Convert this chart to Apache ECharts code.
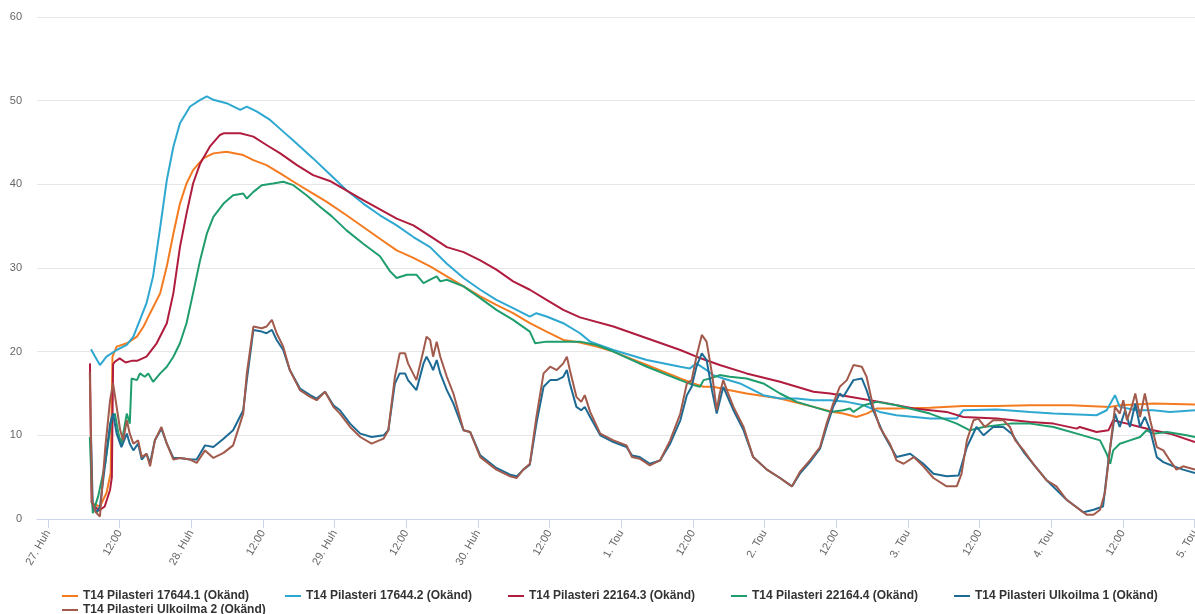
<!DOCTYPE html>
<html><head><meta charset="utf-8">
<script src="https://cdn.jsdelivr.net/npm/echarts@6/dist/echarts.min.js"></script>
<style>html,body{margin:0;padding:0;background:#fff}#c{width:1195px;height:614px}</style>
</head><body><div id="c"></div>
<script>
// x = hours since 27 Apr 00:00
const tickHours = [0,12,24,36,48,60,72,84,96,108,120,132,144,156,168,180,192];
const tickLabels = ['27. Huh','12:00','28. Huh','12:00','29. Huh','12:00','30. Huh','12:00','1. Tou','12:00','2. Tou','12:00','3. Tou','12:00','4. Tou','12:00','5. Tou'];
const yTicks = [0,10,20,30,40,50,60];
const seriesNames = ['T14 Pilasteri 17644.1 (Okänd)','T14 Pilasteri 17644.2 (Okänd)','T14 Pilasteri 22164.3 (Okänd)','T14 Pilasteri 22164.4 (Okänd)','T14 Pilasteri Ulkoilma 1 (Okänd)','T14 Pilasteri Ulkoilma 2 (Okänd)'];
const seriesColors = ['#f47b20','#2ea8d1','#b01c3e','#1f9d6d','#1d6b94','#a15a4b'];

const s17644_1 = [[7.3,1.9],[8.7,1.5],[9.8,3.1],[10.5,5.5],[10.8,19.4],[11.5,20.6],[13.2,21.0],[14.9,21.8],[16.0,23.0],[17.1,24.6],[18.8,27.0],[19.9,30.2],[21.0,34.1],[22.1,37.7],[23.2,40.1],[24.3,41.7],[26.0,43.1],[27.7,43.7],[29.9,43.9],[32.7,43.5],[34.4,42.9],[36.6,42.3],[38.9,41.3],[41.6,40.1],[44.4,38.9],[46.7,37.9],[50.0,36.3],[52.8,34.9],[55.6,33.5],[58.4,32.1],[61.2,31.2],[64.0,30.2],[66.8,29.0],[69.6,27.8],[72.4,26.6],[75.1,25.6],[77.9,24.6],[80.7,23.4],[83.5,22.4],[86.3,21.4],[89.1,21.1],[91.9,20.6],[94.7,20.0],[97.5,19.2],[100.3,18.4],[103.1,17.6],[105.9,16.8],[108.1,16.2],[109.8,15.8],[111.4,15.8],[114.2,15.4],[117.0,15.0],[122.6,14.4],[128.2,13.4],[131.5,12.8],[133.2,12.6],[135.4,12.2],[137.1,12.6],[138.8,13.2],[142.1,13.2],[147.7,13.3],[153.3,13.5],[158.9,13.5],[164.5,13.6],[171.2,13.6],[177.9,13.4],[179.5,13.6],[185.1,13.8],[192.1,13.7]];

const s17644_2 = [[7.2,20.3],[7.9,19.4],[8.7,18.4],[9.8,19.4],[11.5,20.2],[13.2,20.8],[14.3,21.8],[15.4,23.8],[16.5,25.8],[17.6,29.0],[18.8,34.9],[19.9,40.5],[21.0,44.5],[22.1,47.3],[23.8,49.3],[25.5,50.1],[26.6,50.5],[27.7,50.1],[29.9,49.7],[32.2,48.9],[33.3,49.3],[35.0,48.7],[37.2,47.7],[39.4,46.3],[41.6,44.9],[44.4,43.1],[47.2,41.2],[50.0,39.3],[52.8,37.7],[55.6,36.3],[58.4,35.1],[61.2,33.7],[64.0,32.5],[66.8,30.5],[69.6,28.8],[72.4,27.4],[75.1,26.2],[77.9,25.2],[80.7,24.2],[81.8,24.6],[83.5,24.2],[86.3,23.4],[89.1,22.2],[90.8,21.2],[94.7,20.2],[100.3,19.0],[105.9,18.2],[107.5,18.0],[108.6,18.6],[110.3,17.8],[111.4,17.2],[113.1,16.8],[115.9,16.2],[119.8,14.8],[122.6,14.4],[125.4,14.4],[128.2,14.2],[131.0,14.2],[133.8,14.0],[136.6,13.6],[139.3,12.8],[142.1,12.4],[147.7,12.0],[152.2,12.0],[153.3,13.0],[158.9,13.1],[164.5,12.8],[168.4,12.6],[175.6,12.4],[177.3,13.0],[178.7,14.8],[179.5,13.4],[182.3,13.0],[185.1,13.0],[187.9,12.8],[192.1,13.0]];

const s22164_3 = [[7.03,18.6],[7.3,2.0],[8.5,1.0],[9.5,1.5],[10.4,3.5],[10.7,5.0],[10.9,18.5],[11.2,18.8],[12.0,19.2],[13.0,18.7],[14.0,18.9],[14.9,18.9],[16.5,19.4],[18.2,21.0],[19.9,23.4],[21.0,27.0],[22.1,32.5],[23.2,36.5],[24.3,40.1],[25.5,42.5],[27.1,44.5],[28.8,45.9],[29.4,46.1],[32.2,46.1],[34.4,45.7],[36.6,44.7],[38.9,43.7],[41.7,42.3],[44.4,41.1],[47.2,40.4],[52.8,38.1],[58.4,35.9],[61.2,35.1],[64.0,33.8],[66.8,32.5],[69.6,31.9],[72.4,30.9],[75.1,29.8],[77.9,28.4],[80.7,27.4],[83.5,26.2],[86.3,25.0],[89.1,24.1],[94.7,23.0],[100.3,21.6],[105.9,20.2],[108.6,19.4],[112.5,18.4],[117.0,17.4],[122.6,16.4],[128.2,15.2],[131.0,15.0],[134.3,14.6],[139.3,14.0],[145.0,13.2],[150.5,12.8],[153.3,12.2],[158.9,12.0],[164.5,11.6],[168.4,11.4],[172.3,10.8],[172.8,11.0],[175.6,10.4],[177.6,10.6],[178.4,11.8],[180.7,11.4],[182.9,11.0],[185.1,10.6],[187.9,10.2],[192.1,9.2]];

const s22164_4 = [[7.0,9.8],[7.5,0.7],[8.4,2.7],[9.6,6.7],[10.7,12.2],[11.2,12.6],[11.8,10.2],[12.3,9.0],[13.2,12.6],[13.7,11.4],[14.0,16.8],[14.9,16.6],[15.4,17.4],[16.2,17.0],[16.8,17.4],[17.6,16.4],[18.8,17.4],[19.9,18.2],[21.0,19.4],[22.1,21.0],[23.2,23.4],[24.3,27.0],[25.5,31.0],[26.6,34.1],[27.7,36.1],[29.4,37.7],[31.0,38.7],[32.7,38.9],[33.3,38.3],[34.4,39.1],[35.8,39.9],[37.7,40.1],[39.4,40.3],[41.1,39.9],[43.3,38.7],[45.6,37.3],[47.5,36.2],[50.0,34.5],[52.8,32.9],[55.6,31.4],[57.3,29.6],[58.4,28.8],[60.1,29.2],[61.7,29.2],[62.9,28.2],[64.0,28.6],[65.1,29.0],[65.7,28.4],[66.8,28.6],[69.6,27.8],[72.4,26.4],[75.1,25.0],[77.9,23.8],[80.7,22.4],[81.6,21.0],[83.5,21.2],[86.3,21.2],[89.1,21.2],[91.9,20.8],[94.7,20.0],[100.3,18.2],[105.9,16.6],[108.1,16.0],[109.2,15.8],[109.8,16.6],[110.9,16.8],[112.5,17.2],[114.2,17.0],[117.0,16.8],[119.8,16.2],[122.6,15.0],[125.4,14.0],[128.2,13.4],[131.0,12.8],[133.2,13.0],[134.3,13.2],[134.9,12.8],[136.6,13.6],[138.8,14.0],[142.1,13.6],[147.7,12.6],[152.2,11.4],[154.4,10.6],[156.7,11.0],[161.1,11.4],[164.5,11.4],[168.4,11.0],[172.3,10.2],[176.2,9.4],[177.3,7.8],[177.9,6.6],[178.4,8.2],[179.5,9.0],[181.2,9.4],[182.9,9.8],[184.0,10.6],[185.1,10.2],[187.4,10.4],[190.7,10.0],[192.1,9.8]];

const sUlko1 = [[7.2,10.0],[7.5,1.5],[8.2,0.8],[8.7,1.5],[9.6,6.7],[10.4,11.4],[10.9,12.6],[11.5,10.2],[12.3,8.6],[13.2,10.2],[13.7,9.0],[14.3,8.2],[15.1,9.0],[15.7,7.1],[16.5,7.8],[17.1,6.7],[17.9,9.4],[19.0,10.8],[19.9,9.0],[21.0,7.3],[22.1,7.3],[23.8,7.1],[24.9,7.1],[26.3,8.8],[27.7,8.6],[29.4,9.6],[31.0,10.6],[32.7,13.0],[33.3,16.6],[34.4,22.6],[35.8,22.4],[36.6,22.2],[37.5,22.6],[38.3,21.4],[39.4,20.2],[40.5,17.8],[42.2,15.6],[43.9,14.8],[45.0,14.4],[46.4,15.2],[47.8,13.6],[48.9,13.0],[50.6,11.4],[52.3,10.2],[54.2,9.8],[56.2,10.0],[57.0,10.6],[58.1,16.2],[58.9,17.4],[59.8,17.4],[60.3,16.6],[61.7,15.4],[62.9,18.6],[63.4,19.4],[64.0,18.6],[64.5,17.8],[65.1,19.0],[65.7,17.4],[66.8,15.4],[67.9,13.8],[69.6,10.6],[70.7,10.4],[72.4,7.6],[75.1,6.1],[77.4,5.3],[78.5,5.1],[79.6,5.9],[80.7,6.5],[81.8,11.4],[83.0,15.8],[84.1,16.6],[85.2,16.6],[86.3,17.0],[86.9,17.8],[87.4,16.2],[88.5,13.4],[89.3,13.0],[89.9,13.4],[90.8,12.2],[92.5,10.0],[94.7,9.2],[96.9,8.6],[97.8,7.6],[99.1,7.4],[100.8,6.6],[102.5,7.0],[104.2,9.0],[105.9,11.8],[107.0,14.8],[107.8,15.8],[108.6,18.2],[109.5,19.8],[110.3,19.0],[111.2,15.4],[112.0,12.6],[113.1,15.8],[114.8,13.0],[116.5,10.6],[118.1,7.4],[120.4,5.9],[122.6,4.9],[124.6,3.9],[126.0,5.5],[127.6,6.8],[129.3,8.4],[130.4,11.0],[131.5,13.4],[132.6,15.0],[133.2,14.6],[134.9,16.6],[136.3,16.8],[137.1,15.4],[138.2,13.0],[139.9,10.2],[142.1,7.4],[144.4,7.8],[146.6,6.6],[148.3,5.4],[150.5,5.1],[152.5,5.2],[153.9,8.6],[155.5,11.0],[156.7,10.0],[158.3,11.0],[160.0,11.0],[161.4,10.2],[163.4,8.0],[165.0,6.6],[167.3,4.6],[170.6,2.3],[173.4,0.8],[175.1,1.1],[176.7,1.5],[177.6,7.0],[178.7,12.6],[179.5,11.0],[180.4,13.0],[181.2,11.0],[182.1,13.8],[182.9,11.0],[183.7,12.2],[184.6,10.6],[185.7,7.4],[186.8,6.8],[188.5,6.3],[190.1,5.9],[192.1,5.5]];

const sUlko2 = [[7.0,17.5],[7.4,2.0],[8.0,0.8],[8.7,0.3],[9.6,8.6],[10.4,14.2],[10.9,16.2],[11.5,13.4],[12.1,10.6],[12.6,9.4],[13.2,11.8],[13.7,10.2],[14.3,9.0],[15.1,9.4],[15.7,7.4],[16.5,7.8],[17.1,6.3],[17.9,9.4],[19.0,11.0],[19.9,9.0],[21.0,7.1],[22.1,7.3],[23.8,7.1],[24.9,6.7],[26.3,8.2],[27.7,7.3],[29.4,7.9],[31.0,8.8],[32.7,12.6],[33.3,17.4],[34.4,23.0],[35.8,22.8],[36.6,23.0],[37.5,23.8],[38.3,22.2],[39.4,20.6],[40.5,17.8],[42.2,15.4],[43.9,14.6],[45.0,14.2],[46.4,15.2],[47.8,13.4],[48.9,12.6],[50.6,11.0],[52.3,9.8],[54.2,9.0],[56.2,9.6],[57.0,10.6],[58.1,17.0],[58.9,19.8],[59.8,19.8],[60.3,18.6],[61.7,16.6],[62.9,20.2],[63.4,21.8],[64.0,21.4],[64.5,19.4],[65.1,21.2],[65.7,19.4],[66.8,17.0],[67.9,15.0],[69.6,10.6],[70.7,10.4],[72.4,7.4],[75.1,5.9],[77.4,5.1],[78.5,4.9],[79.6,5.9],[80.7,6.6],[81.8,12.2],[83.0,17.4],[84.1,18.2],[85.2,17.8],[86.3,18.6],[86.9,19.4],[87.4,17.8],[88.5,14.6],[89.3,14.0],[89.9,14.8],[90.8,12.8],[92.5,10.2],[94.7,9.4],[96.9,8.8],[97.8,7.4],[99.1,7.2],[100.8,6.4],[102.5,7.0],[104.2,9.4],[105.9,12.6],[107.0,16.2],[107.8,16.6],[108.6,19.4],[109.5,22.0],[110.3,21.2],[111.2,17.4],[112.0,13.0],[112.5,15.0],[113.1,16.6],[113.7,15.4],[114.8,13.4],[116.5,11.0],[118.1,7.4],[120.4,5.9],[122.6,4.9],[124.6,3.9],[126.0,5.7],[127.6,7.0],[129.3,8.6],[130.4,11.4],[131.5,13.8],[132.6,15.8],[133.8,16.6],[134.9,18.4],[136.3,18.2],[137.1,17.0],[138.2,13.4],[139.3,11.0],[141.0,9.0],[142.1,7.0],[143.3,6.6],[145.0,7.4],[146.6,6.3],[148.3,4.9],[150.5,3.9],[152.2,3.9],[153.0,5.4],[153.9,9.4],[155.0,11.8],[155.8,12.0],[156.9,11.0],[158.3,11.8],[160.0,11.8],[161.1,11.0],[162.0,9.4],[163.4,8.2],[165.0,6.6],[167.3,4.6],[168.9,3.9],[170.6,2.3],[172.8,1.1],[174.0,0.5],[175.1,0.5],[176.2,1.1],[177.0,3.1],[177.9,8.6],[178.7,13.4],[179.5,12.6],[180.1,14.2],[180.7,11.8],[181.5,13.4],[182.1,15.0],[182.9,12.2],[183.7,15.0],[184.6,11.8],[185.7,8.6],[186.8,8.2],[187.9,7.0],[189.0,5.9],[190.1,6.3],[192.1,5.9]];

const seriesData = [s17644_1, s17644_2, s22164_3, s22164_4, sUlko1, sUlko2];

const chart = echarts.init(document.getElementById('c'), null, {renderer: 'canvas'});
const font = 'Liberation Sans, Arial, Helvetica, sans-serif';
const legendBase = {
  left: 57, orient: 'horizontal', icon: 'rect', itemWidth: 16, itemHeight: 2, itemGap: 20,
  textStyle: {fontFamily: font, fontWeight: 'bold', fontSize: 12, color: '#333333', width: 182, lineHeight: 14},
  selectedMode: false
};
chart.setOption({
  animation: false,
  backgroundColor: '#ffffff',
  grid: {left: 37, right: 0, top: 17, bottom: 95, containLabel: false, outerBoundsMode: 'none'},
  legend: [
    Object.assign({}, legendBase, {top: 584, data: seriesNames.slice(0, 5)}),
    Object.assign({}, legendBase, {top: 598, data: seriesNames.slice(5)})
  ],
  xAxis: {
    type: 'value', min: -1.84, max: 192.1,
    axisLine: {show: true, lineStyle: {color: '#ccd6eb', width: 1}},
    axisTick: {show: true, length: 9, lineStyle: {color: '#ccd6eb'}, customValues: tickHours},
    splitLine: {show: false},
    axisLabel: {
      customValues: tickHours, rotate: 60, margin: 12, color: '#666666', fontSize: 11, fontFamily: font,
      formatter: function (v) { const i = tickHours.indexOf(Math.round(v)); return i >= 0 ? tickLabels[i] : ''; }
    }
  },
  yAxis: {
    type: 'value', min: yTicks[0], max: yTicks[yTicks.length - 1], interval: 10,
    axisLine: {show: false}, axisTick: {show: false},
    splitLine: {show: true, lineStyle: {color: '#e6e6e6', width: 1}},
    axisLabel: {color: '#666666', fontSize: 11, fontFamily: font, margin: 15}
  },
  series: seriesNames.map((n, i) => ({
    name: n, type: 'line', data: seriesData[i], showSymbol: false, symbol: 'none',
    color: seriesColors[i], lineStyle: {width: 2, color: seriesColors[i]},
    z: 2 + i, smooth: false
  }))
});
</script></body></html>
